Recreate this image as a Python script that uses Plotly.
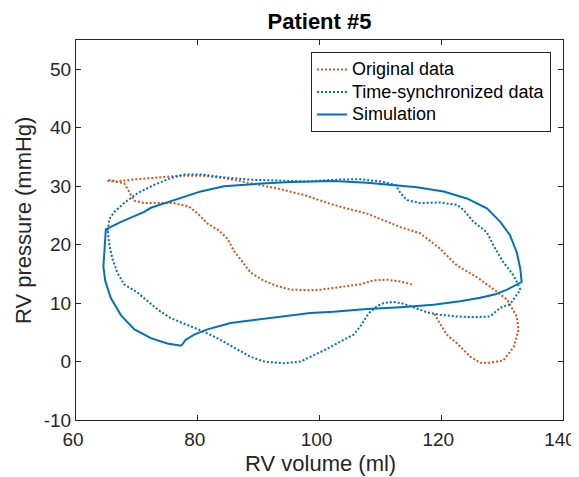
import plotly.graph_objects as go

# Simulation (solid blue) loop
sim_vol = [77.3, 78.0, 79.4, 81.6, 85.4, 89.8, 94.1, 98.5, 102.3, 107.8, 113.3, 118.7, 123.1, 126.4,
           128.9, 130.8, 133.2, 133.0, 132.4, 131.3, 129.7, 127.5, 124.2, 120.4, 116.0, 112.2, 107.8,
           102.3, 96.9, 95.2, 89.8, 84.3, 80.5, 76.1, 72.3, 71.2, 67.4, 64.9, 64.6, 64.5, 64.8,
           65.7, 67.4, 69.6, 72.3, 75.0, 77.3]
sim_pres = [2.7, 3.7, 4.6, 5.5, 6.6, 7.2, 7.7, 8.3, 8.5, 9.0, 9.3, 9.7, 10.3, 10.9,
            11.5, 12.3, 13.6, 15.8, 18.7, 21.6, 23.9, 26.2, 27.9, 29.1, 29.8, 30.2, 30.6,
            30.9, 30.8, 30.7, 30.4, 30.0, 29.1, 27.6, 26.3, 25.6, 23.9, 22.6, 18.7, 16.2, 13.8,
            10.9, 7.9, 5.5, 4.0, 3.1, 2.7]

# Original data (orange dotted)
orig_vol = [115.2, 113.3, 111.1, 108.9, 106.7, 103.4, 100.2, 98.2, 95.2, 93.1, 90.9, 88.7, 87.3,
            85.9, 84.9, 83.5, 81.6, 80.0, 78.6, 76.1, 73.4, 71.2, 69.6, 68.7, 67.9, 66.8, 65.7,
            65.1, 66.6, 69.0, 73.4, 77.2, 80.5, 84.3, 88.7, 93.1, 97.4, 102.3, 107.8, 113.3,
            116.6, 119.8, 122.6, 125.9, 128.3, 130.8, 132.4, 132.7, 131.9, 130.2, 128.0, 126.4,
            124.8, 122.6, 120.9, 119.8, 118.7]
orig_pres = [13.2, 13.7, 14.0, 13.9, 13.2, 12.8, 12.3, 12.2, 12.3, 12.9, 13.8, 15.2, 17.0,
             19.0, 21.0, 22.4, 23.6, 25.3, 26.5, 27.1, 27.1, 27.1, 27.5, 29.1, 30.5, 30.7, 31.1,
             30.9, 30.8, 31.1, 31.5, 31.8, 31.8, 31.4, 30.5, 29.6, 28.5, 26.8, 25.3, 23.0,
             21.9, 19.3, 16.4, 14.4, 12.6, 10.6, 7.7, 5.4, 2.5, 0.2, -0.2, -0.2,
             0.8, 3.1, 4.6, 6.6, 8.4]

# Time-synchronized data (blue dotted)
sync_vol = [65.2, 65.5, 66.3, 67.9, 70.1, 72.8, 75.6, 77.8, 80.5, 84.3, 88.7, 93.1, 98.0, 102.3,
            106.7, 110.0, 112.5, 113.3, 114.4, 116.6, 119.8, 122.6, 123.7, 125.3, 127.5, 128.6,
            130.2, 131.9, 133.0, 131.3, 129.7, 128.0, 125.3, 122.6, 119.8, 117.7, 115.5, 113.8,
            112.2, 110.5, 109.5, 108.1, 106.7, 105.6, 103.4, 101.3, 99.1, 96.9, 94.1, 90.9,
            88.7, 85.9, 83.2, 81.0, 78.3, 75.6, 73.4, 71.8, 70.1, 67.9, 66.8, 66.0, 65.5, 65.2]
sync_pres = [22.4, 24.4, 25.6, 27.1, 28.8, 30.2, 31.4, 32.0, 32.0, 31.5, 31.1, 30.9, 30.8, 31.1,
             31.2, 30.8, 30.2, 28.8, 27.6, 27.1, 27.2, 26.8, 25.9, 23.9, 22.1, 19.8,
             17.0, 14.7, 12.3, 9.8, 9.2, 7.7, 7.6, 7.7, 8.0, 8.4, 9.2, 9.9,
             10.2, 10.0, 9.5, 8.3, 6.0, 4.6, 3.4, 2.2, 1.1, 0.0, -0.3, 0.0,
             0.8, 2.5, 4.0, 5.1, 6.3, 7.4, 8.9, 10.3, 11.8, 13.2, 15.2, 17.5, 19.8, 22.4]

series_names = ["Original data", "Time-synchronized data", "Simulation"]
x_ticks = [60, 80, 100, 120, 140]
y_ticks = [-10, 0, 10, 20, 30, 40, 50]

BLUE = "#0072BD"
ORANGE = "#D95319"
AX = "#262626"
FONT = "Liberation Sans, Arial, sans-serif"
DOT = "2px,2px"

# Figure sized to fit inside the page's default 8px body margin
W, H = 571, 469
ML, MR, MT, MB = 68, 16, 32, 57
PW, PH = W - ML - MR, H - MT - MB


def leg(name):
    return '<span style="font-size:18px">' + name + '</span>'


fig = go.Figure()
fig.add_trace(go.Scatter(x=orig_vol, y=orig_pres, mode="lines", name=leg(series_names[0]),
                         line=dict(color=ORANGE, width=2, dash=DOT)))
fig.add_trace(go.Scatter(x=sync_vol, y=sync_pres, mode="lines", name=leg(series_names[1]),
                         line=dict(color=BLUE, width=2, dash=DOT)))
fig.add_trace(go.Scatter(x=sim_vol, y=sim_pres, mode="lines", name=leg(series_names[2]),
                         line=dict(color=BLUE, width=2)))

axis_common = dict(showline=True, linecolor=AX, linewidth=1, mirror="ticks", ticks="inside",
                   ticklen=5, tickcolor=AX, showgrid=False, zeroline=False, automargin=False,
                   ticklabeloverflow="allow",
                   tickfont=dict(family=FONT, size=19, color=AX))

fig.update_layout(
    width=W, height=H,
    margin=dict(l=ML, r=MR, t=MT, b=MB),
    paper_bgcolor="white", plot_bgcolor="white",
    font=dict(family=FONT, color=AX),
    title=dict(text="<b>Patient #5</b>", x=0.5, xref="paper", xanchor="center",
               y=1 - 13.7 / H, yanchor="middle",
               font=dict(family=FONT, size=22, color="black")),
    xaxis=dict(range=[60, 140], tickvals=x_ticks, ticktext=[str(v) for v in x_ticks],
               ticklabelstandoff=2, ticklabelshift=-3, **axis_common),
    yaxis=dict(range=[-10, 55], tickvals=y_ticks, ticktext=[str(v) for v in y_ticks],
               **axis_common),
    legend=dict(x=(543.0 - ML) / PW, y=1 - (44.3 - MT) / PH, xanchor="right", yanchor="top",
                bgcolor="white", bordercolor=AX, borderwidth=1,
                font=dict(family=FONT, size=15, color="black"),
                tracegroupgap=0, itemwidth=30),
    showlegend=True,
    annotations=[
        dict(text="RV volume (ml)", xref="paper", yref="paper",
             x=(312.8 - ML) / PW, y=1 - (456 - MT) / PH, xanchor="center", yanchor="middle",
             showarrow=False, font=dict(family=FONT, size=22, color=AX)),
        dict(text="RV pressure (mmHg)", xref="paper", yref="paper", textangle=-90,
             x=(15 - ML) / PW, y=1 - (213 - MT) / PH, xanchor="center", yanchor="middle",
             showarrow=False, font=dict(family=FONT, size=22, color=AX)),
    ],
)

fig.write_html("out.html")
